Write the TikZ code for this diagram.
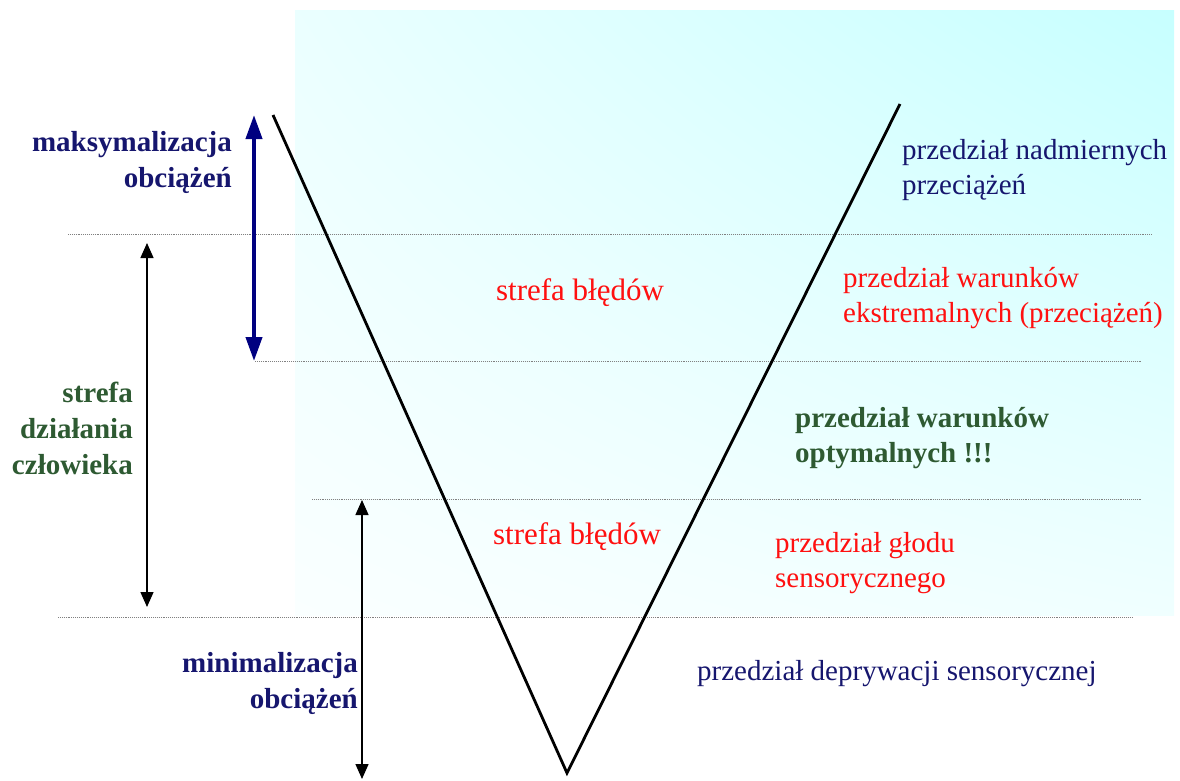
\documentclass[tikz,border=0pt]{standalone}
\usepackage{fontspec}
\setmainfont{Liberation Serif}
\usepackage{xcolor}
\usetikzlibrary{arrows.meta, shadings}
\definecolor{navy}{HTML}{16166E}
\definecolor{deepnavy}{HTML}{000080}
\definecolor{darkgreen}{HTML}{2E5A32}
\definecolor{errred}{HTML}{FF1010}

\begin{document}
\begin{tikzpicture}[x=1pt, y=-1pt,
    txt/.style={font=\fontsize{29}{35}\selectfont, inner sep=0pt, align=left, anchor=west},
    txtb/.style={font=\bfseries\fontsize{29}{36}\selectfont, inner sep=0pt, align=right, anchor=east},
    guide/.style={gray, densely dotted, line width=0.9pt},
    bar/.style={black, line width=1.4pt, {Triangle[width=13pt, length=15pt]}-{Triangle[width=13pt, length=15pt]}}]
  \useasboundingbox (0,0) rectangle (1180,780);

  % Background shade (right part)
  \shade[lower left=cyan!2, upper left=cyan!8, upper right=cyan!22, lower right=cyan!6]
    (295,10) rectangle (1174,615);

  % Dotted level lines
  \foreach \gy/\gx/\gxx in {234/68/1152, 361/255/1142, 499/312/1142, 617/58/1132} {
    \draw[guide] (\gx,\gy) -- (\gxx,\gy);
  }

  % The V
  \coordinate (vleft) at (273,115);
  \coordinate (vtip) at (567,773);
  \coordinate (vright) at (900,104);
  \draw[line width=2.8pt] (vleft) -- (vtip) -- (vright);

  % Range arrows (left)
  \coordinate (maxtop) at (254,115);
  \coordinate (maxbot) at (254,361);
  \draw[deepnavy, line width=4pt,
        {Triangle[width=16pt, length=24pt]}-{Triangle[width=16pt, length=24pt]}]
    (maxtop) -- (maxbot);
  \coordinate (acttop) at (147,243);
  \coordinate (actbot) at (147,607);
  \draw[bar] (acttop) -- (actbot);
  \coordinate (mintop) at (362,500);
  \coordinate (minbot) at (362,779);
  \draw[bar] (mintop) -- (minbot);

  % Left labels
  \node[txtb, text=navy] (maxlbl) at (232,162) {maksymalizacja\\obciążeń};
  \node[txtb, text=darkgreen] (actlbl) at (133,428) {strefa\\działania\\człowieka};
  \node[txtb, text=navy] (minlbl) at (358,683) {minimalizacja\\obciążeń};

  % Error zones
  \node[font=\fontsize{31}{36}\selectfont, text=errred, inner sep=0pt] (err1) at (580,293) {strefa błędów};
  \node[font=\fontsize{31}{36}\selectfont, text=errred, inner sep=0pt] (err2) at (577,537) {strefa błędów};

  % Right labels
  \node[txt, text=navy] (over) at (902,170) {przedział nadmiernych\\przeciążeń};
  \node[txt, text=errred] (extr) at (843,298) {przedział warunków\\ekstremalnych (przeciążeń)};
  \node[txt, text=darkgreen, font=\bfseries\fontsize{29}{35}\selectfont] (opt) at (795,438)
    {przedział warunków\\optymalnych !!!};
  \node[txt, text=errred] (hung) at (775,563) {przedział głodu\\sensorycznego};
  \node[txt, text=navy] (depr) at (697,674) {przedział deprywacji sensorycznej};
\end{tikzpicture}
\end{document}
